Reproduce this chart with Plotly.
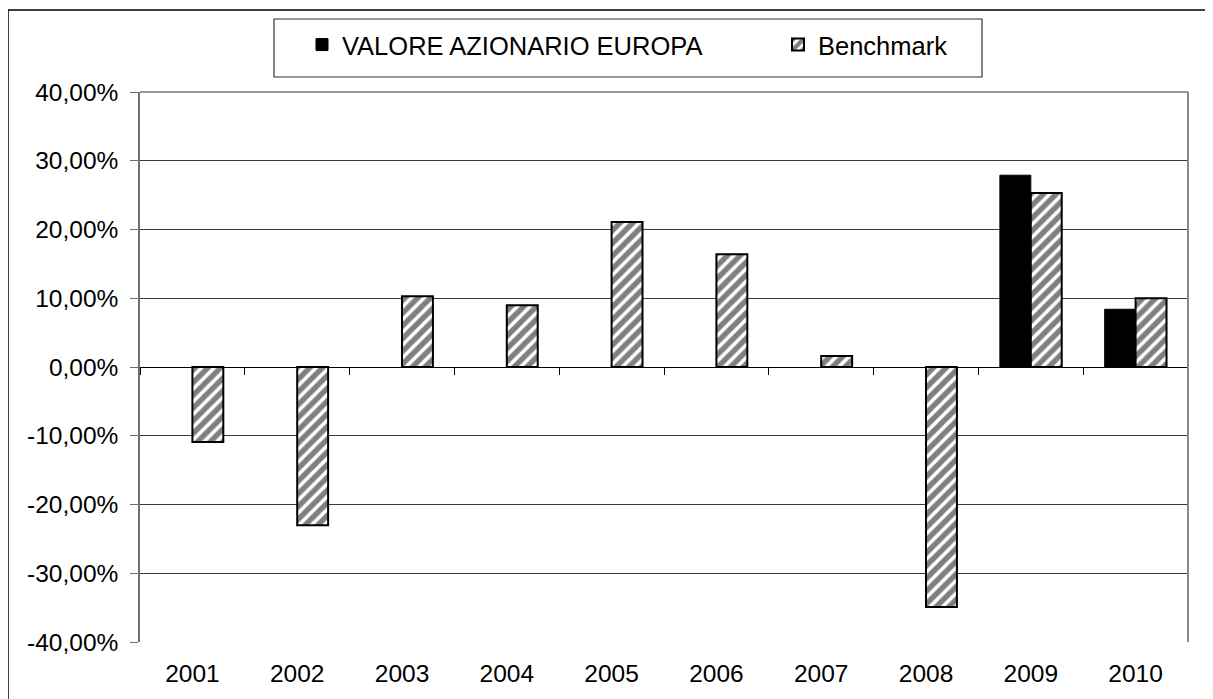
import plotly.graph_objects as go

years = ["2001", "2002", "2003", "2004", "2005", "2006", "2007", "2008", "2009", "2010"]
valore = [None, None, None, None, None, None, None, None, 27.9, 8.4]
benchmark = [-10.9, -23.0, 10.3, 9.0, 21.1, 16.4, 1.6, -34.9, 25.3, 10.0]
y_ticks = [-40, -30, -20, -10, 0, 10, 20, 30, 40]
y_ticktext = ["-40,00%", "-30,00%", "-20,00%", "-10,00%", "0,00%", "10,00%", "20,00%", "30,00%", "40,00%"]
series_names = ["VALORE AZIONARIO EUROPA", "Benchmark"]

# the page body adds an 8px margin, so the figure is made 8px smaller
OFF = 8
W, H = 1213 - OFF, 699 - OFF
# target plot-area edges in screen pixels
SL, SR, ST, SB = 140, 1188, 92, 642
L, T = SL - OFF, ST - OFF
R, B = W - (SR - OFF), H - (SB - OFF)
PW, PH = SR - SL, SB - ST


def px_x(p):
    return (p - SL) / PW


def px_y(p):
    return (SB - p) / PH


FONT = "Liberation Sans, Arial, sans-serif"
GRID = "#3a3a3a"
AXIS = "#707070"
FS = 24.5
LFS = 25.5

fig = go.Figure()
fig.add_trace(go.Bar(
    x=years, y=valore, name=series_names[0], legend="legend",
    marker=dict(color="black", line=dict(color="black", width=1)),
))
fig.add_trace(go.Bar(
    x=years, y=benchmark, name=series_names[1], legend="legend2",
    marker=dict(color="white",
                line=dict(color="black", width=2),
                pattern=dict(shape="/", fgcolor="black", bgcolor="white",
                             size=9, solidity=0.6)),
))
# helper (invisible) trace so the zero-line axis with boundary ticks is drawn
fig.add_trace(go.Scatter(x=[None], y=[None], xaxis="x2", showlegend=False,
                         hoverinfo="skip"))

n = len(years)
boundaries = [i - 0.5 for i in range(n + 1)]

leg_common = dict(orientation="h", xanchor="left", yanchor="middle",
                  font=dict(family=FONT, size=LFS, color="black"),
                  bgcolor="rgba(0,0,0,0)", borderwidth=0)

fig.update_layout(
    width=W, height=H,
    margin=dict(l=L, r=R, t=T, b=B, pad=0),
    paper_bgcolor="white", plot_bgcolor="white",
    font=dict(family=FONT, size=FS, color="black"),
    barmode="group", bargap=0.41, bargroupgap=0,
    showlegend=True,
    legend=dict(x=px_x(302), y=px_y(45), **leg_common),
    legend2=dict(x=px_x(778), y=px_y(45), **leg_common),
    xaxis=dict(type="category", showgrid=False, showline=False, ticks="",
               ticklabelstandoff=14, tickfont=dict(size=FS),
               range=[-0.5, n - 0.5], fixedrange=True),
    xaxis2=dict(overlaying="x", anchor="free", position=0.5, side="bottom",
                range=[-0.5, n - 0.5], tickvals=boundaries, ticks="outside",
                ticklen=7, tickcolor="black", tickwidth=1,
                showticklabels=False, showgrid=False, showline=True,
                linecolor="black", linewidth=1, zeroline=False),
    yaxis=dict(range=[-40, 40], tickvals=y_ticks, ticktext=y_ticktext,
               showgrid=True, gridcolor=GRID, gridwidth=1,
               zeroline=True, zerolinecolor="black", zerolinewidth=1,
               showline=True, linecolor=AXIS, linewidth=1.5,
               ticks="outside", ticklen=8, tickcolor=AXIS,
               ticklabelstandoff=7, tickfont=dict(size=FS)),
    shapes=[
        # plot area top and right border
        dict(type="line", xref="paper", yref="paper", x0=1, x1=1, y0=0, y1=1,
             line=dict(color="#8a8a8a", width=2)),
        dict(type="line", xref="paper", yref="paper", x0=0, x1=1, y0=1, y1=1,
             line=dict(color="#777777", width=1.5)),
        # legend box
        dict(type="rect", xref="paper", yref="paper",
             x0=px_x(274), x1=px_x(982), y0=px_y(77), y1=px_y(19),
             line=dict(color="#333333", width=1.2)),
        # outer chart frame
        dict(type="rect", xref="paper", yref="paper",
             x0=px_x(8), x1=px_x(1240), y0=px_y(730), y1=px_y(10),
             line=dict(color="black", width=1.5)),
    ],
)

fig.write_html("out.html")
